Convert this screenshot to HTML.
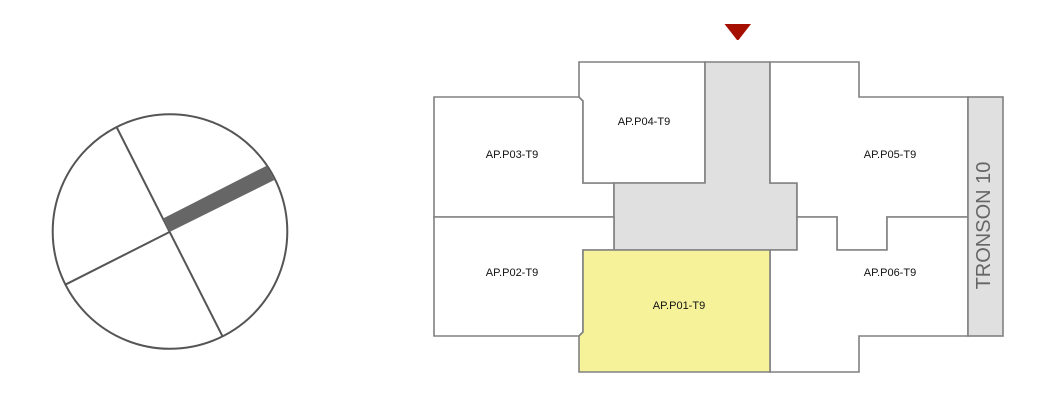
<!DOCTYPE html>
<html><head><meta charset="utf-8"><style>
html,body{margin:0;padding:0;background:#fff;}
svg{display:block;}
</style></head><body>
<svg width="1062" height="402" viewBox="0 0 1062 402" xmlns="http://www.w3.org/2000/svg">
<rect width="1062" height="402" fill="#fff"/>
<!-- compass -->
<circle cx="170" cy="231.5" r="117.3" fill="#fff" stroke="#555" stroke-width="2"/>
<line x1="116.7" y1="127.3" x2="222.7" y2="336.7" stroke="#555" stroke-width="2"/>
<line x1="66" y1="284.3" x2="169.5" y2="232" stroke="#555" stroke-width="2"/>
<polygon points="162.8,218.6 169.5,232 274.3,180 266.7,165.7" fill="#666"/>

<!-- plan -->
<g stroke="#808080" stroke-width="1.6" stroke-linejoin="miter">
<polygon points="434,97 579,97 583,101 583,183 614,183 614,217 434,217" fill="#fff"/>
<polygon points="579,62 705,62 705,183 583,183 583,101 579,97" fill="#fff"/>
<polygon points="705,62 770,62 770,183 797,183 797,250 614,250 614,183 705,183" fill="#e0e0e0"/>
<polygon points="770,62 859,62 859,97 968,97 968,217 887,217 887,250 837,250 837,217 797,217 797,183 770,183" fill="#fff"/>
<polygon points="797,217 837,217 837,250 887,250 887,217 968,217 968,336 859,336 859,372 770,372 770,250 797,250" fill="#fff"/>
<polygon points="434,217 614,217 614,250 583,250 583,332 579,336 434,336" fill="#fff"/>
<polygon points="583,250 770,250 770,372 579,372 579,336 583,332" fill="#f5f29a"/>
<rect x="968" y="97" width="35" height="239" fill="#e0e0e0"/>
</g>
<polygon points="724.5,24 751,24 738.5,40 737,40" fill="#a50f00"/>

<g font-family="'Liberation Sans', sans-serif" font-size="11" fill="#111" text-anchor="middle">
<text x="512" y="158">AP.P03-T9</text>
<text x="644" y="125">AP.P04-T9</text>
<text x="890" y="158">AP.P05-T9</text>
<text x="512" y="276">AP.P02-T9</text>
<text x="679" y="309">AP.P01-T9</text>
<text x="890" y="276">AP.P06-T9</text>
</g>
<text transform="translate(990,225.5) rotate(-90)" x="0" y="0" font-family="'Liberation Sans', sans-serif" font-size="20" fill="#666" text-anchor="middle">TRONSON 10</text>
</svg>
</body></html>
